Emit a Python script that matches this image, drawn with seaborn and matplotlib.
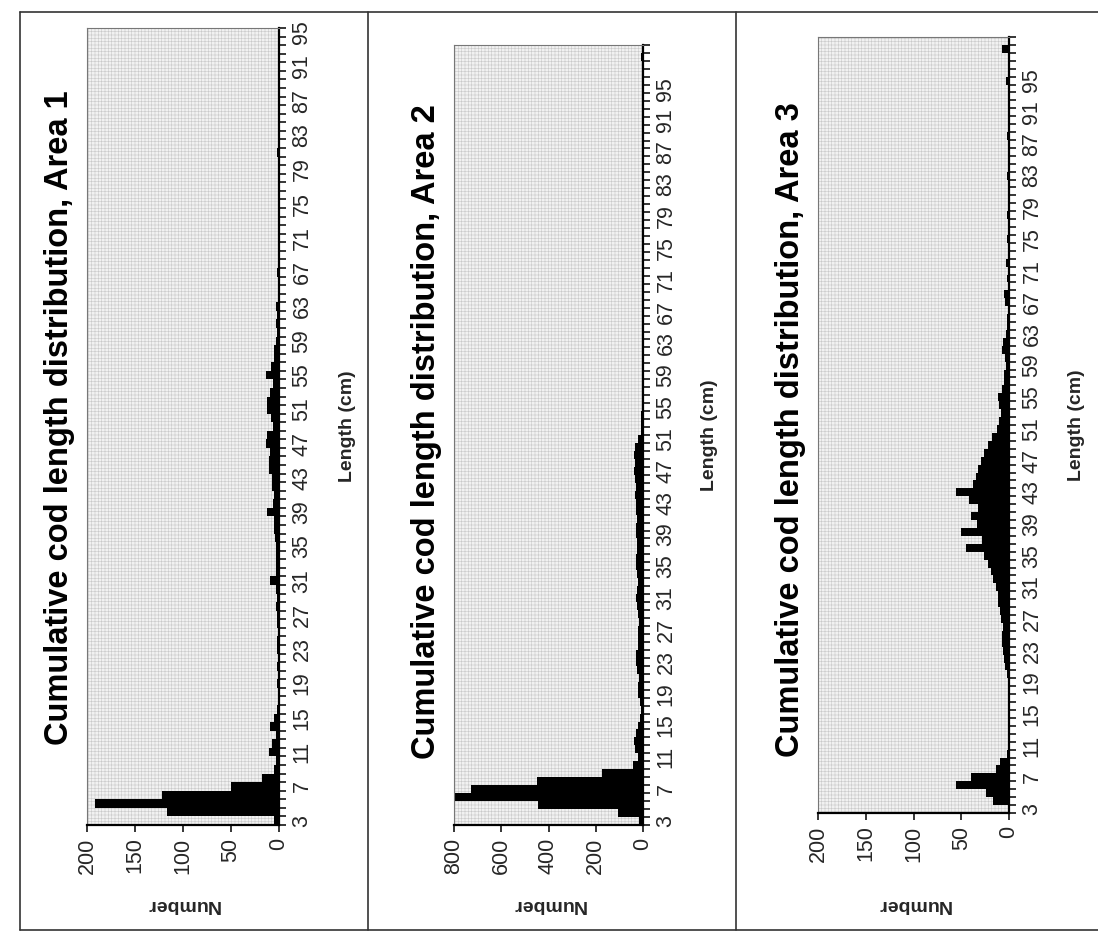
import matplotlib
matplotlib.use("Agg")
import matplotlib.pyplot as plt
from matplotlib.patches import Rectangle
from matplotlib.lines import Line2D
from matplotlib.ticker import FixedLocator, NullFormatter
import seaborn as sns
import pandas as pd

sns.set_theme(style="white")
plt.rcParams["font.family"] = ["Liberation Sans", "DejaVu Sans"]
plt.rcParams["hatch.linewidth"] = 0.4

# Length classes (cm)
lengths_area1 = list(range(3, 96))
lengths_area2 = list(range(3, 101))
lengths_area3 = list(range(3, 101))

# Cumulative number of cod per length class
counts_area1 = [
    5, 117, 192, 122, 50, 18, 5, 3, 10, 7,          # 3-12
    3, 9, 5, 2, 1, 1, 2, 1, 2, 1,                   # 13-22
    2, 2, 1, 2, 2, 3, 2, 3, 9, 3,                   # 23-32
    3, 3, 3, 4, 5, 5, 12, 6, 5, 7,                  # 33-42
    7, 10, 10, 9, 14, 12, 6, 8, 12, 12,             # 43-52
    9, 6, 14, 8, 5, 5, 3, 2, 3, 2,                  # 53-62
    3, 1, 1, 1, 2, 1, 0, 1, 0, 0,                   # 63-72
    1, 0, 0, 1, 0, 0, 0, 0, 2, 0,                   # 73-82
    0, 0, 0, 0, 0, 0, 0, 0, 0, 0,                   # 83-92
    0, 0, 0,                                        # 93-95
]
counts_area2 = [
    15, 105, 445, 797, 726, 447, 175, 41, 22, 35,   # 3-12
    38, 30, 22, 12, 10, 14, 20, 22, 18, 24,         # 13-22
    30, 28, 22, 20, 22, 18, 20, 24, 28, 26,         # 23-32
    22, 26, 30, 28, 24, 24, 28, 30, 26, 28,         # 33-42
    30, 32, 30, 34, 36, 35, 38, 34, 22, 10,         # 43-52
    8, 7, 6, 5, 5, 4, 4, 3, 3, 3,                   # 53-62
    2, 2, 2, 2, 1, 1, 1, 1, 1, 1,                   # 63-72
    1, 1, 1, 1, 1, 1, 1, 1, 1, 1,                   # 73-82
    1, 1, 1, 1, 1, 1, 1, 1, 1, 1,                   # 83-92
    1, 1, 1, 1, 2, 4, 8, 3,                         # 93-100
]
counts_area3 = [
    1, 17, 24, 56, 40, 14, 9, 2, 0, 0,              # 3-12
    0, 0, 0, 0, 1, 1, 1, 2, 4, 5,                   # 13-22
    6, 7, 7, 6, 8, 9, 11, 12, 14, 17,               # 23-32
    19, 22, 26, 45, 28, 50, 33, 40, 32, 42,         # 33-42
    55, 38, 35, 32, 29, 26, 22, 18, 13, 10,         # 43-52
    8, 10, 12, 7, 5, 5, 3, 4, 7, 6,                 # 53-62
    3, 2, 2, 1, 4, 5, 1, 2, 1, 3,                   # 63-72
    1, 1, 2, 1, 0, 2, 1, 1, 0, 1,                   # 73-82
    2, 0, 1, 1, 0, 2, 0, 1, 1, 0,                   # 83-92
    0, 1, 3, 0, 1, 0, 7, 0,                         # 93-100
]

length_ticks = list(range(3, 96, 4))
number_ticks_200 = [0, 50, 100, 150, 200]
number_ticks_800 = [0, 200, 400, 600, 800]

titles = [
    "Cumulative cod length distribution, Area 1",
    "Cumulative cod length distribution, Area 2",
    "Cumulative cod length distribution, Area 3",
]

W, H = 1098, 935
fig = plt.figure(figsize=(W / 100, H / 100), dpi=100)
fig.patch.set_facecolor("white")


def px_axes(x0, x1, y0, y1):
    return fig.add_axes([x0 / W, (H - y1) / H, (x1 - x0) / W, (y1 - y0) / H])


panels = [
    dict(box=(87, 279, 28, 825), lengths=lengths_area1, counts=counts_area1,
         xmax=200, xticks=number_ticks_200, top=95.5, title_xy=(60, 418)),
    dict(box=(454, 643, 45, 825), lengths=lengths_area2, counts=counts_area2,
         xmax=800, xticks=number_ticks_800, top=100.5, title_xy=(427, 432)),
    dict(box=(818, 1009, 37, 813), lengths=lengths_area3, counts=counts_area3,
         xmax=200, xticks=number_ticks_200, top=100.5, title_xy=(791, 430)),
]

for p, title in zip(panels, titles):
    x0, x1, y0, y1 = p["box"]
    ax = px_axes(x0, x1, y0, y1)

    # light dotted plot-area background
    ax.add_patch(Rectangle((0, 0), 1, 1, transform=ax.transAxes,
                           facecolor="#f1f1f1", edgecolor="#c9c9c9",
                           hatch="+++++", lw=0, zorder=0))

    df = pd.DataFrame({"Length": p["lengths"], "Number": p["counts"]})
    sns.barplot(data=df, x="Number", y="Length", orient="y", native_scale=True,
                color="black", saturation=1, width=1.0, linewidth=0, ax=ax,
                zorder=2)

    ax.set_xlim(p["xmax"], 0)
    ax.set_ylim(2.5, p["top"])

    # category (length) axis on the right
    ax.yaxis.tick_right()
    ax.yaxis.set_major_locator(FixedLocator(length_ticks))
    ax.set_yticklabels([str(v) for v in length_ticks])
    minor = [v + 0.5 for v in range(2, int(p["top"]) + 1)]
    ax.yaxis.set_minor_locator(FixedLocator(minor))
    ax.yaxis.set_minor_formatter(NullFormatter())
    ax.tick_params(axis="y", which="major", length=0, pad=9,
                   labelsize=15.5, labelrotation=90, right=True, left=False)
    ax.tick_params(axis="y", which="minor", length=5, width=1.1,
                   color="black", direction="out", right=True, left=False)
    for lab in ax.get_yticklabels():
        lab.set_va("center")

    # value (number) axis at the bottom
    ax.set_xticks(p["xticks"])
    ax.set_xticklabels([str(v) for v in p["xticks"]])
    ax.tick_params(axis="x", which="major", length=5, width=1.1,
                   color="black", direction="out", bottom=True,
                   labelsize=15.5, labelrotation=90, pad=4)

    ax.set_xlabel("Number", fontsize=14, fontweight="bold", rotation=180)
    ax.xaxis.set_label_coords(0.5, -(905 - y1) / (y1 - y0))
    ax.xaxis.label.set_va("center")

    ax.yaxis.set_label_position("right")
    ax.set_ylabel("Length (cm)", fontsize=14, fontweight="bold", rotation=90)
    ax.yaxis.set_label_coords((347 - 87) / (279 - 87), 0.5)
    ax.yaxis.label.set_va("center")
    ax.yaxis.label.set_ha("center")

    for side in ("left", "top"):
        ax.spines[side].set_color("#777777")
        ax.spines[side].set_linewidth(0.8)
    for side in ("right", "bottom"):
        ax.spines[side].set_color("black")
        ax.spines[side].set_linewidth(1.6)
    ax.grid(False)

    tx, ty = p["title_xy"]
    fig.text(tx / W, 1 - ty / H, title,
             rotation=90, ha="center", va="center",
             fontsize=23.5, fontweight="bold", color="black")

# panel frames
frame_kw = dict(color="#333333", lw=1.2, transform=fig.transFigure)
fig.add_artist(Line2D([20 / W, 1.0], [1 - 12 / H, 1 - 12 / H], **frame_kw))
fig.add_artist(Line2D([20 / W, 1.0], [1 - 930 / H, 1 - 930 / H], **frame_kw))
for xf in (20, 368, 736):
    fig.add_artist(Line2D([xf / W, xf / W], [1 - 930 / H, 1 - 12 / H], **frame_kw))

fig.savefig("out.png", dpi=100)
